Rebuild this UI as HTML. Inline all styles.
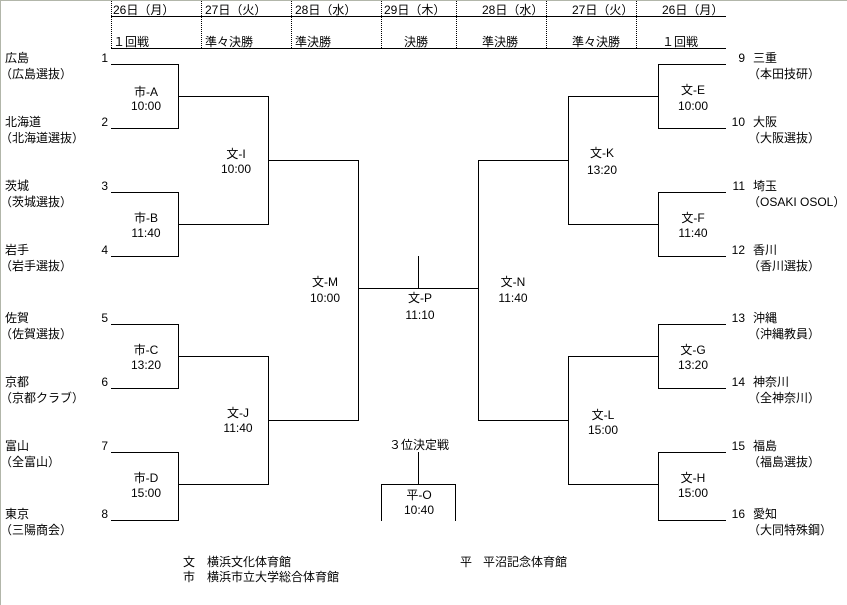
<!DOCTYPE html>
<html><head><meta charset="utf-8">
<style>
html,body{margin:0;padding:0;background:#fff;}
body{width:847px;height:605px;position:relative;overflow:hidden;}
.t{position:absolute;font:12px/16px "Liberation Sans","Noto Sans CJK JP",sans-serif;color:#000;white-space:nowrap;}
.c{width:100px;text-align:center;}
.r{width:40px;text-align:right;}
svg{position:absolute;left:0;top:0;}
</style></head><body>
<div style="position:absolute;left:0;top:0;width:847px;height:1px;background:#b2b6aa"></div>
<div style="position:absolute;left:0;top:0;width:1px;height:605px;background:#b2b6aa"></div>

<svg width="847" height="605" shape-rendering="crispEdges">
<g stroke="#000" stroke-width="1" fill="none">
<!-- header -->
<line x1="111" y1="16.5" x2="726" y2="16.5"/>
<line x1="111" y1="48.5" x2="726" y2="48.5"/>
<g stroke-dasharray="1,1">
<line x1="111.5" y1="1" x2="111.5" y2="48"/>
<line x1="201.5" y1="1" x2="201.5" y2="48"/>
<line x1="291.5" y1="1" x2="291.5" y2="48"/>
<line x1="381.5" y1="1" x2="381.5" y2="48"/>
<line x1="456.5" y1="1" x2="456.5" y2="48"/>
<line x1="546.5" y1="1" x2="546.5" y2="48"/>
<line x1="636.5" y1="1" x2="636.5" y2="48"/>
</g>
<!-- left bracket -->
<path d="M111 64.5H178.5V128.5H111"/>
<path d="M111 192.5H178.5V256.5H111"/>
<path d="M111 324.5H178.5V388.5H111"/>
<path d="M111 452.5H178.5V520.5H111"/>
<path d="M178 96.5H268.5V224.5H178"/>
<path d="M178 356.5H268.5V484.5H178"/>
<path d="M268 160.5H358.5V420.5H268"/>
<!-- final -->
<line x1="358" y1="288.5" x2="478" y2="288.5"/>
<line x1="418.5" y1="256" x2="418.5" y2="288"/>
<!-- right bracket -->
<path d="M726 64.5H658.5V128.5H726"/>
<path d="M726 192.5H658.5V256.5H726"/>
<path d="M726 324.5H658.5V388.5H726"/>
<path d="M726 452.5H658.5V520.5H726"/>
<path d="M658 96.5H568.5V224.5H658"/>
<path d="M658 356.5H568.5V484.5H658"/>
<path d="M568 160.5H478.5V420.5H568"/>
<!-- 3rd place -->
<line x1="418.5" y1="452" x2="418.5" y2="484"/>
<path d="M381.5 521V484.5H455.5V521"/>
</g>
</svg>

<!-- header text -->
<div class="t" style="left:113px;top:2px">26日（月）</div>
<div class="t" style="left:205px;top:2px">27日（火）</div>
<div class="t" style="left:295px;top:2px">28日（水）</div>
<div class="t" style="left:384px;top:2px">29日（木）</div>
<div class="t" style="left:482px;top:2px">28日（水）</div>
<div class="t" style="left:572px;top:2px">27日（火）</div>
<div class="t" style="left:662px;top:2px">26日（月）</div>
<div class="t" style="left:113px;top:34px">１回戦</div>
<div class="t" style="left:205px;top:34px">準々決勝</div>
<div class="t" style="left:295px;top:34px">準決勝</div>
<div class="t" style="left:404px;top:34px">決勝</div>
<div class="t" style="left:482px;top:34px">準決勝</div>
<div class="t" style="left:572px;top:34px">準々決勝</div>
<div class="t" style="left:662px;top:34px">１回戦</div>

<!-- left teams -->
<div class="t" style="left:5px;top:50px">広島</div><div class="t" style="left:0px;top:66px">（広島選抜）</div><div class="t r" style="left:68px;top:50px">1</div>
<div class="t" style="left:5px;top:114px">北海道</div><div class="t" style="left:0px;top:130px">（北海道選抜）</div><div class="t r" style="left:68px;top:114px">2</div>
<div class="t" style="left:5px;top:178px">茨城</div><div class="t" style="left:0px;top:194px">（茨城選抜）</div><div class="t r" style="left:68px;top:178px">3</div>
<div class="t" style="left:5px;top:242px">岩手</div><div class="t" style="left:0px;top:258px">（岩手選抜）</div><div class="t r" style="left:68px;top:242px">4</div>
<div class="t" style="left:5px;top:310px">佐賀</div><div class="t" style="left:0px;top:326px">（佐賀選抜）</div><div class="t r" style="left:68px;top:310px">5</div>
<div class="t" style="left:5px;top:374px">京都</div><div class="t" style="left:0px;top:390px">（京都クラブ）</div><div class="t r" style="left:68px;top:374px">6</div>
<div class="t" style="left:5px;top:438px">富山</div><div class="t" style="left:0px;top:454px">（全富山）</div><div class="t r" style="left:68px;top:438px">7</div>
<div class="t" style="left:5px;top:506px">東京</div><div class="t" style="left:0px;top:522px">（三陽商会）</div><div class="t r" style="left:68px;top:506px">8</div>

<!-- right teams -->
<div class="t r" style="left:705px;top:50px">9</div><div class="t" style="left:753px;top:50px">三重</div><div class="t" style="left:748px;top:66px">（本田技研）</div>
<div class="t r" style="left:705px;top:114px">10</div><div class="t" style="left:753px;top:114px">大阪</div><div class="t" style="left:748px;top:130px">（大阪選抜）</div>
<div class="t r" style="left:705px;top:178px">11</div><div class="t" style="left:753px;top:178px">埼玉</div><div class="t" style="left:748px;top:194px">（OSAKI OSOL）</div>
<div class="t r" style="left:705px;top:242px">12</div><div class="t" style="left:753px;top:242px">香川</div><div class="t" style="left:748px;top:258px">（香川選抜）</div>
<div class="t r" style="left:705px;top:310px">13</div><div class="t" style="left:753px;top:310px">沖縄</div><div class="t" style="left:748px;top:326px">（沖縄教員）</div>
<div class="t r" style="left:705px;top:374px">14</div><div class="t" style="left:753px;top:374px">神奈川</div><div class="t" style="left:748px;top:390px">（全神奈川）</div>
<div class="t r" style="left:705px;top:438px">15</div><div class="t" style="left:753px;top:438px">福島</div><div class="t" style="left:748px;top:454px">（福島選抜）</div>
<div class="t r" style="left:705px;top:506px">16</div><div class="t" style="left:753px;top:506px">愛知</div><div class="t" style="left:748px;top:522px">（大同特殊鋼）</div>

<!-- match labels -->
<div class="t c" style="left:96px;top:84px">市-A</div><div class="t c" style="left:96px;top:98px">10:00</div>
<div class="t c" style="left:96px;top:210px">市-B</div><div class="t c" style="left:96px;top:225px">11:40</div>
<div class="t c" style="left:96px;top:342px">市-C</div><div class="t c" style="left:96px;top:357px">13:20</div>
<div class="t c" style="left:96px;top:470px">市-D</div><div class="t c" style="left:96px;top:485px">15:00</div>
<div class="t c" style="left:186px;top:146px">文-I</div><div class="t c" style="left:186px;top:161px">10:00</div>
<div class="t c" style="left:188px;top:405px">文-J</div><div class="t c" style="left:188px;top:420px">11:40</div>
<div class="t c" style="left:275px;top:274px">文-M</div><div class="t c" style="left:275px;top:290px">10:00</div>
<div class="t c" style="left:370px;top:290px">文-P</div><div class="t c" style="left:370px;top:307px">11:10</div>
<div class="t c" style="left:463px;top:274px">文-N</div><div class="t c" style="left:463px;top:290px">11:40</div>
<div class="t c" style="left:552px;top:145px">文-K</div><div class="t c" style="left:552px;top:162px">13:20</div>
<div class="t c" style="left:553px;top:407px">文-L</div><div class="t c" style="left:553px;top:422px">15:00</div>
<div class="t c" style="left:643px;top:82px">文-E</div><div class="t c" style="left:643px;top:98px">10:00</div>
<div class="t c" style="left:643px;top:210px">文-F</div><div class="t c" style="left:643px;top:225px">11:40</div>
<div class="t c" style="left:643px;top:342px">文-G</div><div class="t c" style="left:643px;top:357px">13:20</div>
<div class="t c" style="left:643px;top:470px">文-H</div><div class="t c" style="left:643px;top:485px">15:00</div>
<div class="t c" style="left:369px;top:437px">３位決定戦</div>
<div class="t c" style="left:369px;top:487px">平-O</div><div class="t c" style="left:369px;top:502px">10:40</div>

<!-- legend -->
<div class="t" style="left:183px;top:554px">文</div><div class="t" style="left:207px;top:554px">横浜文化体育館</div>
<div class="t" style="left:183px;top:569px">市</div><div class="t" style="left:207px;top:569px">横浜市立大学総合体育館</div>
<div class="t" style="left:460px;top:554px">平</div><div class="t" style="left:483px;top:554px">平沼記念体育館</div>
</body></html>
